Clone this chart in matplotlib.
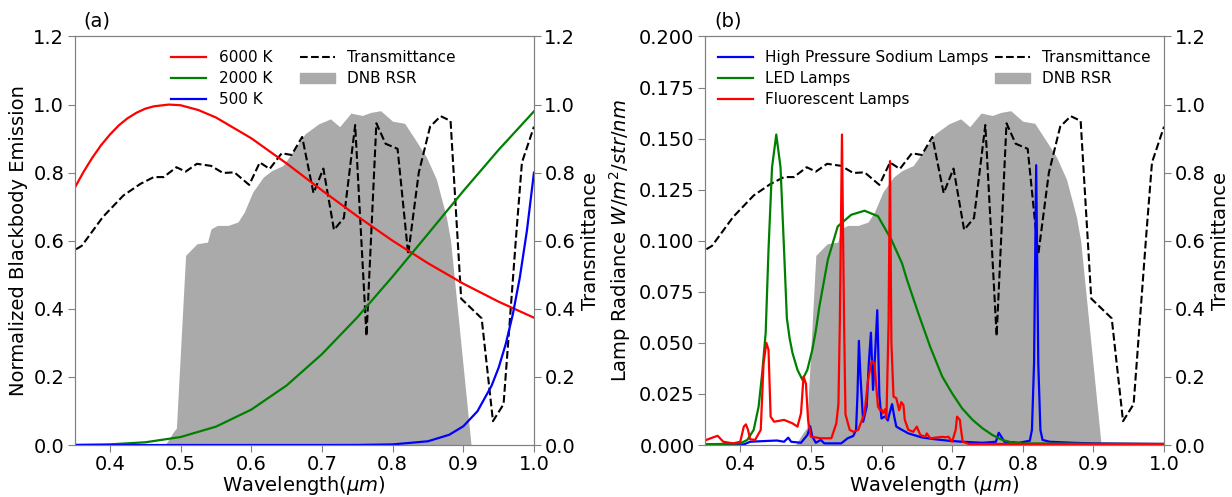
import numpy as np
import matplotlib
matplotlib.use('Agg')
import matplotlib.pyplot as plt
from matplotlib.patches import Patch

plt.rcParams['font.family'] = ['DejaVu Sans']
plt.rcParams['mathtext.fontset'] = 'dejavusans'

# ---- 公共数据: 大气透过率 和 DNB 相对光谱响应 ----
wl_trans = [0.352, 0.36, 0.39, 0.419, 0.443, 0.462, 0.476, 0.494, 0.507, 0.523,
            0.543, 0.56, 0.576, 0.597, 0.612, 0.626, 0.643, 0.657, 0.672, 0.688,
            0.702, 0.717, 0.731, 0.747, 0.763, 0.777, 0.790, 0.807, 0.822, 0.837,
            0.853, 0.868, 0.882, 0.897, 0.912, 0.926, 0.942, 0.957, 0.975, 0.983, 1.0]
trans = [0.575, 0.585, 0.670, 0.733, 0.767, 0.787, 0.787, 0.816, 0.803, 0.826,
         0.820, 0.799, 0.801, 0.764, 0.830, 0.811, 0.857, 0.852, 0.905, 0.740,
         0.812, 0.632, 0.667, 0.940, 0.320, 0.945, 0.885, 0.870, 0.560, 0.800,
         0.935, 0.966, 0.952, 0.430, 0.400, 0.372, 0.070, 0.120, 0.620, 0.830, 0.935]

wl_rsr = [0.478, 0.489, 0.494, 0.507, 0.523, 0.538, 0.543, 0.552, 0.567, 0.581,
          0.590, 0.602, 0.617, 0.629, 0.645, 0.660, 0.676, 0.695, 0.712, 0.725,
          0.741, 0.757, 0.769, 0.783, 0.800, 0.817, 0.833, 0.848, 0.862, 0.876,
          0.882, 0.911]
rsr = [0.0, 0.036, 0.050, 0.557, 0.591, 0.596, 0.635, 0.645, 0.645, 0.655,
       0.684, 0.743, 0.787, 0.806, 0.821, 0.865, 0.914, 0.943, 0.958, 0.935,
       0.975, 0.968, 0.977, 0.982, 0.951, 0.945, 0.894, 0.845, 0.780, 0.670,
       0.600, 0.0]

# ---- (a) 归一化黑体辐射 ----
wl_6000 = [0.35, 0.3625, 0.375, 0.3875, 0.40, 0.4125, 0.425, 0.4375, 0.45, 0.4625,
           0.483, 0.50, 0.525, 0.55, 0.60, 0.65, 0.70, 0.75, 0.80, 0.85,
           0.90, 0.95, 1.0]
bb_6000 = [0.755, 0.802, 0.844, 0.881, 0.912, 0.939, 0.960, 0.976, 0.988, 0.995,
           1.0, 0.998, 0.984, 0.962, 0.901, 0.827, 0.748, 0.672, 0.600, 0.534,
           0.474, 0.421, 0.374]
wl_2000 = [0.35, 0.40, 0.45, 0.50, 0.55, 0.60, 0.65, 0.70, 0.75, 0.80,
           0.85, 0.90, 0.95, 1.0]
bb_2000 = [0.0003, 0.002, 0.008, 0.0235, 0.054, 0.104, 0.175, 0.267, 0.375, 0.495,
           0.620, 0.746, 0.867, 0.980]
wl_500 = [0.35, 0.70, 0.75, 0.80, 0.85, 0.88, 0.90, 0.92, 0.94, 0.95,
          0.96, 0.97, 0.98, 0.99, 1.0]
bb_500 = [0.0, 0.0, 0.0002, 0.0018, 0.011, 0.030, 0.055, 0.099, 0.174, 0.227,
          0.296, 0.383, 0.492, 0.629, 0.800]

# ---- (b) 灯光辐亮度 ----
wl_hps = [0.35, 0.405, 0.414, 0.438, 0.452, 0.462, 0.468, 0.472, 0.486, 0.495,
          0.499, 0.502, 0.507, 0.514, 0.519, 0.543, 0.552, 0.560, 0.564, 0.566,
          0.568, 0.570, 0.574, 0.579, 0.582, 0.585, 0.588, 0.591, 0.594, 0.597,
          0.600, 0.605, 0.609, 0.612, 0.615, 0.618, 0.621, 0.629, 0.638, 0.657,
          0.676, 0.695, 0.714, 0.743, 0.762, 0.766, 0.768, 0.771, 0.774, 0.795,
          0.810, 0.813, 0.816, 0.819, 0.822, 0.825, 0.828, 0.838, 0.871, 0.90, 1.0]
hps = [0.0003, 0.0003, 0.0016, 0.002, 0.0022, 0.0016, 0.0036, 0.0016, 0.0011, 0.0049,
       0.0092, 0.0041, 0.0011, 0.0025, 0.0008, 0.0008, 0.0033, 0.0044, 0.0074, 0.025,
       0.051, 0.035, 0.0114, 0.0188, 0.040, 0.055, 0.027, 0.045, 0.066, 0.024,
       0.013, 0.014, 0.012, 0.0163, 0.020, 0.0139, 0.009, 0.0074, 0.0057, 0.0037,
       0.0028, 0.0021, 0.0016, 0.0011, 0.0016, 0.006, 0.005, 0.0033, 0.0016, 0.0011,
       0.0021, 0.0074, 0.040, 0.137, 0.040, 0.0074, 0.0025, 0.0016, 0.0011, 0.0008, 0.0005]

wl_led = [0.35, 0.40, 0.41, 0.419, 0.426, 0.431, 0.436, 0.440, 0.445, 0.451,
          0.457, 0.462, 0.466, 0.470, 0.474, 0.481, 0.488, 0.495, 0.502, 0.507,
          0.512, 0.524, 0.538, 0.557, 0.576, 0.595, 0.614, 0.629, 0.636, 0.652,
          0.669, 0.686, 0.70, 0.714, 0.729, 0.743, 0.757, 0.771, 0.786, 0.80, 0.90, 1.0]
led = [0.0003, 0.0008, 0.0025, 0.0074, 0.0188, 0.035, 0.055, 0.0956, 0.136, 0.152,
       0.136, 0.0956, 0.062, 0.052, 0.045, 0.0368, 0.0319, 0.0368, 0.0466, 0.056,
       0.0678, 0.0907, 0.107, 0.1127, 0.1147, 0.112, 0.1005, 0.089, 0.081, 0.0646,
       0.048, 0.0335, 0.0253, 0.018, 0.0123, 0.0082, 0.0049, 0.0025, 0.0011, 0.0008, 0.0006, 0.0005]

wl_fl = [0.35, 0.352, 0.362, 0.368, 0.376, 0.390, 0.400, 0.405, 0.408, 0.411,
         0.414, 0.421, 0.429, 0.433, 0.437, 0.440, 0.443, 0.448, 0.462, 0.474,
         0.481, 0.486, 0.4896, 0.493, 0.496, 0.500, 0.514, 0.529, 0.536, 0.539,
         0.541, 0.544, 0.547, 0.549, 0.555, 0.560, 0.567, 0.576, 0.581, 0.586,
         0.590, 0.593, 0.595, 0.598, 0.600, 0.602, 0.605, 0.607, 0.610, 0.612,
         0.614, 0.617, 0.621, 0.625, 0.628, 0.631, 0.633, 0.638, 0.645, 0.650,
         0.655, 0.662, 0.664, 0.669, 0.686, 0.690, 0.695, 0.700, 0.705, 0.707,
         0.711, 0.712, 0.715, 0.724, 1.0]
fl = [0.002, 0.0025, 0.0038, 0.0045, 0.0016, 0.0008, 0.0016, 0.009, 0.0101, 0.0074,
      0.0028, 0.0025, 0.0074, 0.040, 0.050, 0.0466, 0.0139, 0.0114, 0.0123, 0.0106,
      0.009, 0.0155, 0.0335, 0.030, 0.0123, 0.0041, 0.0033, 0.0033, 0.0106, 0.020,
      0.060, 0.152, 0.060, 0.015, 0.0074, 0.0065, 0.0074, 0.0155, 0.032, 0.041,
      0.040, 0.027, 0.0188, 0.017, 0.0175, 0.0155, 0.0175, 0.013, 0.060, 0.139,
      0.050, 0.0237, 0.0229, 0.017, 0.021, 0.0196, 0.0123, 0.0074, 0.0065, 0.009,
      0.0049, 0.004, 0.0057, 0.0033, 0.004, 0.0038, 0.004, 0.0016, 0.0074, 0.0139,
      0.0123, 0.009, 0.0016, 0.0005, 0.0005]

FS = 14
SPINE = '#808080'
RSR_COLOR = '#aaaaaa'


def style_axes(ax):
    for sp in ax.spines.values():
        sp.set_color(SPINE)
    ax.tick_params(labelsize=FS, color=SPINE, length=5, pad=2.5)


def add_twin(ax):
    """右轴: 透过率 + DNB RSR, 放在左轴图层下面"""
    ax2 = ax.twinx()
    ax2.fill_between(wl_rsr, rsr, 0, color=RSR_COLOR, linewidth=0)
    ax2.plot(wl_trans, trans, 'k--', linewidth=1.5)
    ax2.set_ylim(0, 1.2)
    ax2.set_yticks(np.arange(0, 1.21, 0.2))
    ax2.yaxis.set_major_formatter(plt.FormatStrFormatter('%.1f'))
    ax2.set_ylabel('Transmittance', fontsize=FS)
    style_axes(ax2)
    ax.set_zorder(ax2.get_zorder() + 1)
    ax.patch.set_visible(False)
    return ax2


fig = plt.figure(figsize=(12.32, 4.97), dpi=100)

# (a)
ax = fig.add_axes([0.0606, 0.1046, 0.3728, 0.822])
ax2 = add_twin(ax)
l1, = ax.plot(wl_6000, bb_6000, color='r', linewidth=1.6)
l2, = ax.plot(wl_2000, bb_2000, color='g', linewidth=1.6)
l3, = ax.plot(wl_500, bb_500, color='b', linewidth=1.6)
ax.set_xlim(0.35, 1.0)
ax.set_ylim(0, 1.2)
ax.set_xticks(np.arange(0.4, 1.01, 0.1))
ax.set_yticks(np.arange(0, 1.21, 0.2))
ax.yaxis.set_major_formatter(plt.FormatStrFormatter('%.1f'))
ax.set_xlabel(r'Wavelength($\mu m$)', fontsize=FS, labelpad=0)
ax.set_ylabel('Normalized Blackbody Emission', fontsize=FS)
style_axes(ax)
ax.text(0.02, 1.015, '(a)', transform=ax.transAxes, fontsize=FS, va='bottom')
t_line = plt.Line2D([], [], color='k', linestyle='--', linewidth=1.5)
rsr_patch = Patch(color=RSR_COLOR)
ax.legend([l1, l2, l3, t_line, rsr_patch],
          ['6000 K', '2000 K', '500 K', 'Transmittance', 'DNB RSR'],
          ncol=2, loc='upper center', bbox_to_anchor=(0.52, 1.0), frameon=False,
          fontsize=11, handlelength=2.3, labelspacing=0.4, columnspacing=1.8)

# (b)
bx = fig.add_axes([0.5722, 0.1046, 0.3726, 0.822])
bx2 = add_twin(bx)
h1, = bx.plot(wl_hps, hps, color='b', linewidth=1.6)
h2, = bx.plot(wl_led, led, color='g', linewidth=1.6)
h3, = bx.plot(wl_fl, fl, color='r', linewidth=1.6)
bx.set_xlim(0.35, 1.0)
bx.set_ylim(0, 0.2)
bx.set_xticks(np.arange(0.4, 1.01, 0.1))
bx.set_yticks(np.arange(0, 0.201, 0.025))
bx.yaxis.set_major_formatter(plt.FormatStrFormatter('%.3f'))
bx.set_xlabel(r'Wavelength ($\mu m$)', fontsize=FS, labelpad=0)
bx.set_ylabel(r'Lamp Radiance $W/m^2/str/nm$', fontsize=FS)
style_axes(bx)
bx.text(0.02, 1.015, '(b)', transform=bx.transAxes, fontsize=FS, va='bottom')
bx.legend([h1, h2, h3, t_line, rsr_patch],
          ['High Pressure Sodium Lamps', 'LED Lamps', 'Fluorescent Lamps',
           'Transmittance', 'DNB RSR'],
          ncol=2, loc='upper center', bbox_to_anchor=(0.5, 1.0), frameon=False,
          fontsize=11, handlelength=2.3, labelspacing=0.4, columnspacing=0.4)

fig.savefig('out.png', dpi=100)
